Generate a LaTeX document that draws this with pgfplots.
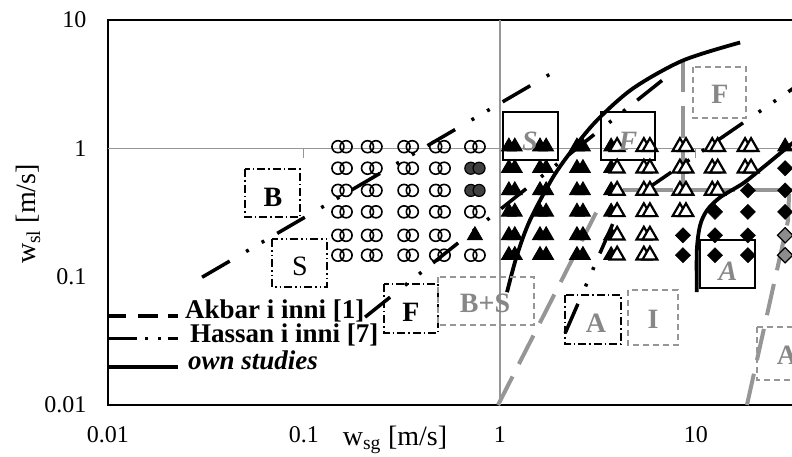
\documentclass[border=0pt]{standalone}
\usepackage{pgfplots}
\pgfplotsset{compat=1.18}
\usepackage{fontspec}
\setmainfont{Liberation Serif}
\definecolor{rgray}{RGB}{150,150,150}
\definecolor{tgray}{RGB}{135,135,135}
\tikzset{
  hdash/.style={black, line width=3.5pt, dash pattern=on 32pt off 19pt on 3pt off 15pt on 3pt off 15pt},
  gdash/.style={rgray, line width=4pt, dash pattern=on 32pt off 14pt},
  own/.style={black, line width=3.8pt},
  bxdd/.style={line width=1.2pt, dash pattern=on 8pt off 3pt on 1.5pt off 3pt},
  bxddd/.style={line width=1.2pt, dash pattern=on 8pt off 3pt on 1.5pt off 3pt on 1.5pt off 3pt},
  bxg/.style={rgray, line width=1.3pt, dash pattern=on 6pt off 4pt},
  bxs/.style={line width=1.4pt},
  lab/.style={font=\fontsize{28}{32}\selectfont\bfseries, inner sep=0pt},
  labi/.style={font=\fontsize{28}{32}\selectfont\bfseries\itshape, inner sep=0pt},
  leg/.style={anchor=west, inner sep=0pt, text height=13pt, text depth=4pt, font=\fontsize{27}{30}\selectfont\bfseries},
}
\begin{document}
\begin{tikzpicture}
\useasboundingbox (-108pt,-51pt) rectangle (684pt,405pt);
\begin{axis}[
  scale only axis, width=784pt, height=385pt,
  xmode=log, ymode=log,
  xmin=0.01, xmax=100, ymin=0.01, ymax=10,
  xtick={0.01,0.1,1,10}, xticklabels={0.01,0.1,1,10},
  ytick={0.01,0.1,1,10}, yticklabels={0.01,0.1,1,10},
  xminorticks=false, yminorticks=false,
  major tick length=0pt,
  axis line style={line width=1.3pt},
  tick label style={font=\fontsize{24}{26}\selectfont},
  xticklabel style={yshift=-18pt},
  yticklabel style={xshift=-18pt},
]
% grid lines at 1
\addplot[rgray, line width=1.3pt] coordinates {(0.01,1) (100,1)};
\addplot[rgray, line width=1.3pt] coordinates {(1,0.01) (1,10)};
\addplot[rgray, line width=1pt] coordinates {(0.1,1) (0.1,0.84)};
\addplot[rgray, line width=1pt] coordinates {(10,1) (10,0.84)};

% grey boundaries
\addplot[gdash] coordinates {(0.977,0.01) (3.27,0.373)};
\addplot[gdash] coordinates {(18.2,0.01) (29.5,0.275) (29.9,0.488)};
\addplot[gdash] coordinates {(8.58,4.84) (8.58,0.47)};
\addplot[rgray, line width=4pt, dash pattern=on 50pt off 12pt] coordinates {(4.24,0.47) (40,0.47)};

% open circles
\addplot[only marks, mark=o, mark size=6pt, mark options={black, line width=1.6pt}] coordinates {
(0.149,1.03) (0.164,1.03) (0.211,1.03) (0.233,1.03) (0.324,1.03) (0.357,1.03) (0.470,1.03) (0.519,1.03) (0.710,1.03) (0.782,1.03)
(0.149,0.70) (0.164,0.70) (0.211,0.70) (0.233,0.70) (0.324,0.70) (0.357,0.70) (0.470,0.70) (0.519,0.70)
(0.149,0.47) (0.164,0.47) (0.211,0.47) (0.233,0.47) (0.324,0.47) (0.357,0.47) (0.470,0.47) (0.519,0.47)
(0.149,0.32) (0.164,0.32) (0.211,0.32) (0.233,0.32) (0.324,0.32) (0.357,0.32) (0.470,0.32) (0.519,0.32) (0.710,0.32) (0.782,0.32)
(0.149,0.21) (0.164,0.21) (0.211,0.21) (0.233,0.21) (0.324,0.21) (0.357,0.21) (0.470,0.21) (0.519,0.21)
(0.149,0.147) (0.164,0.147) (0.211,0.147) (0.233,0.147) (0.324,0.147) (0.357,0.147) (0.470,0.147) (0.519,0.147) (0.710,0.147) (0.782,0.147)
};
% dark filled circles
\addplot[only marks, mark=*, mark size=6pt, mark options={draw=black, fill=black!75, line width=1.2pt}] coordinates {
(0.710,0.70) (0.782,0.70) (0.710,0.47) (0.782,0.47)
};
% filled triangles
\addplot[only marks, mark=triangle*, mark size=8.5pt, mark options={black, line width=1pt}] coordinates {
(0.745,0.21)
(1.11,1.03) (1.19,1.03) (1.60,1.03) (1.72,1.03) (2.47,1.03) (2.65,1.03) (3.69,1.03)
(1.11,0.70) (1.19,0.70) (1.60,0.70) (1.72,0.70) (2.47,0.70) (2.65,0.70) (3.69,0.70)
(1.11,0.47) (1.19,0.47) (1.60,0.47) (1.72,0.47) (2.47,0.47) (2.65,0.47) (3.69,0.47)
(1.11,0.32) (1.19,0.32) (1.60,0.32) (1.72,0.32) (2.47,0.32) (2.65,0.32) (3.69,0.32)
(1.11,0.21) (1.19,0.21) (1.60,0.21) (1.72,0.21) (2.47,0.21) (2.65,0.21) (3.69,0.21)
(1.11,0.147) (1.19,0.147) (1.60,0.147) (1.72,0.147) (2.47,0.147) (2.65,0.147) (3.69,0.147)
(28.5,1.03)
};
% open triangles
\addplot[only marks, mark=triangle*, mark size=8.5pt, mark options={draw=black, fill=white, line width=2.2pt}] coordinates {
(3.96,1.03) (5.42,1.03) (5.82,1.03) (8.28,1.03) (8.89,1.03) (12.1,1.03) (12.9,1.03) (17.8,1.03) (19.1,1.03)
(3.96,0.70) (5.42,0.70) (5.82,0.70) (8.28,0.70) (8.89,0.70) (12.1,0.70) (12.9,0.70) (17.8,0.70) (19.1,0.70)
(3.96,0.47) (5.42,0.47) (5.82,0.47) (8.28,0.47) (8.89,0.47) (12.1,0.47) (12.9,0.47)
(3.96,0.32) (5.42,0.32) (5.82,0.32) (8.28,0.32) (8.89,0.32)
(3.96,0.21) (5.42,0.21) (5.82,0.21)
(3.96,0.147) (5.42,0.147) (5.82,0.147)
};
% filled diamonds
\addplot[only marks, mark=square*, mark size=5.4pt, mark options={black, rotate=45}] coordinates {
(8.58,0.21) (8.58,0.147)
(12.5,0.32) (12.5,0.21) (12.5,0.147)
(18.4,0.47) (18.4,0.32) (18.4,0.21) (18.4,0.147)
(28.5,0.70) (28.5,0.47) (28.5,0.32)
};
% grey diamonds
\addplot[only marks, mark=square*, mark size=5.4pt, mark options={draw=black, fill=black!45, line width=1.2pt, rotate=45}] coordinates {
(28.5,0.21) (28.5,0.147)
};

% boundary lines (dash-dot-dot)
\addplot[hdash] coordinates {(0.0302,0.099) (1.84,3.86)};
\addplot[hdash] coordinates {(0.205,0.0484) (6.71,3.38)};
\addplot[hdash] coordinates {(2.15,0.0363) (3.81,0.270)};
\addplot[hdash] coordinates {(5.49,0.471) (68.7,6.68)};

% own studies
\addplot[own, smooth] coordinates {
(1.086,0.0757) (1.221,0.147) (1.422,0.275) (1.864,0.595) (2.33,0.965)
(3.12,1.65) (4.77,2.93) (8.58,4.84) (16.8,6.68)
};
\addplot[own, smooth] coordinates {
(10.1,0.0757) (10.1,0.161) (10.5,0.252) (11.4,0.330) (13.3,0.416)
(17.4,0.534) (22.0,0.711) (30.9,1.09) (42.9,1.65)
};
\end{axis}

\begin{scope}[x=1pt, y=-1pt, shift={(-108pt,405pt)}]
% region boxes
\draw[bxdd] (245,169) rectangle (300,217);
\node[lab] at (273,197) {B};
\draw[bxddd] (272,239) rectangle (327,287);
\node[inner sep=0pt, font=\fontsize{28}{32}\selectfont] at (300,266) {S};
\draw[bxdd] (384,284) rectangle (438,333);
\node[lab] at (411,312) {F};
\draw[bxg] (438,277) rectangle (534,325);
\node[lab, tgray] at (485,303) {B+S};
\draw[bxdd] (565,295) rectangle (621,344);
\node[lab, tgray] at (596,323) {A};
\draw[bxg] (628,290) rectangle (678,345);
\node[lab, tgray] at (653,319) {I};
\draw[bxs] (700,240) rectangle (755,288);
\node[labi, tgray] at (728,271) {A};
\draw[bxg] (757,327) rectangle (812,380);
\node[lab, tgray] at (787,355) {A};
\draw[bxs] (503,112) rectangle (558,160);
\node[labi, tgray] at (530,141) {S};
\draw[bxs] (601,112) rectangle (655,160);
\node[labi, tgray] at (628,141) {F};
\draw[bxg] (693,67) rectangle (746,118);
\node[lab, tgray] at (720,94) {F};

% legend
\draw[black, line width=3.5pt, dash pattern=on 18pt off 12pt on 20pt off 10pt on 10pt] (108,316) -- (182,316);
\node[leg] at (185,314) {Akbar i inni [1]};
\draw[black, line width=3pt, dash pattern=on 29pt off 8pt on 3pt off 10pt on 3pt off 7pt on 10pt] (108,338) -- (178,338);
\node[leg] at (190,338) {Hassan i inni [7]};
\draw[black, line width=4pt] (108,367) -- (178,367);
\node[leg, font=\fontsize{27}{30}\selectfont\bfseries\itshape] at (188,365) {own studies};

% axis titles
\node[font=\fontsize{28}{30}\selectfont] at (395,440) {w\textsubscript{sg} [m/s]};
\node[font=\fontsize{28}{30}\selectfont, rotate=90] at (28,214) {w\textsubscript{sl} [m/s]};
\end{scope}
\end{tikzpicture}
\end{document}
